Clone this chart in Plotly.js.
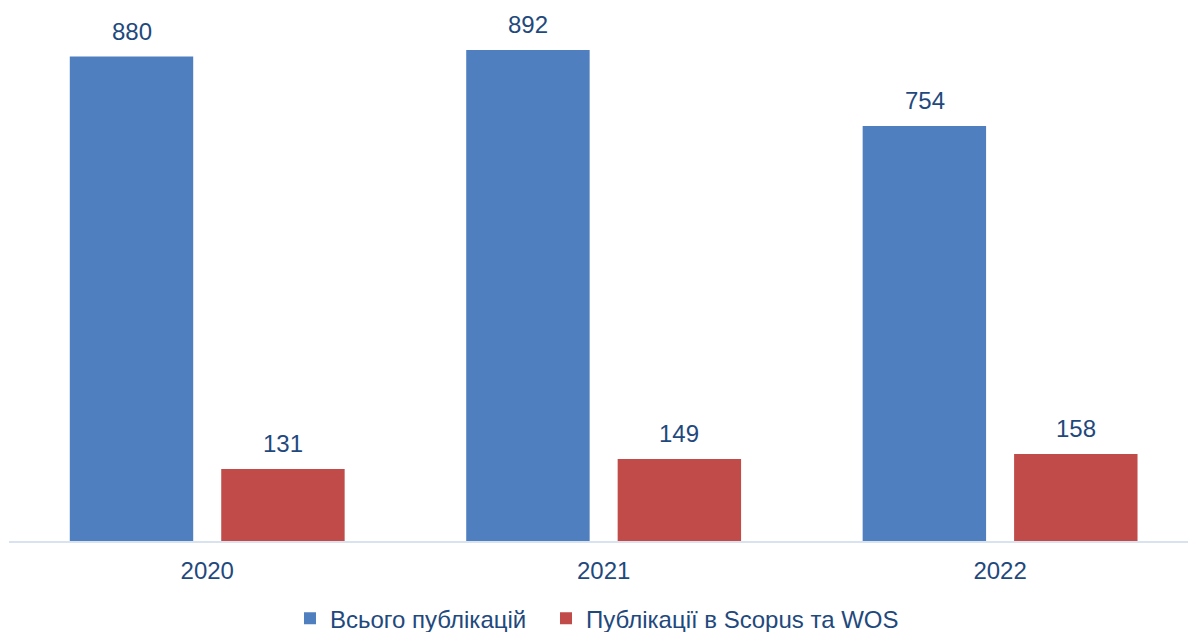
<!DOCTYPE html>
<html><head><meta charset="utf-8">
<script src="https://cdn.plot.ly/plotly-3.0.1.min.js"></script>
<style>html,body{margin:0;padding:0;background:#fff}#chart{width:1188px;height:632px}</style>
</head><body><div id="chart"></div>
<script>
const years = ['2020', '2021', '2022'];
const totalPubs = [880, 892, 754];
const scopusWos = [131, 149, 158];
const seriesNames = ['Всього публікацій', 'Публікації в Scopus та WOS'];

const textColor = '#1f497d';
function mkFont() { return {family: 'Liberation Sans, Arial, sans-serif', size: 24, color: textColor}; }

const traces = [
  {type: 'bar', name: seriesNames[0], x: years, y: totalPubs,
   marker: {color: '#4f7fbf'}, hoverinfo: 'y', legend: 'legend'},
  {type: 'bar', name: seriesNames[1], x: years, y: scopusWos,
   marker: {color: '#c04b49'}, hoverinfo: 'y', legend: 'legend2'}
];

const annotations = [];
[totalPubs, scopusWos].forEach((vals, s) => {
  vals.forEach((v, i) => {
    annotations.push({x: i, y: v, xref: 'x', yref: 'y', text: String(v),
      showarrow: false, yanchor: 'bottom', yshift: 10, xshift: s === 0 ? -75.5 : 75.5,
      font: mkFont()});
  });
});

function mkLegend(x) {
  return {orientation: 'h', x: x, xanchor: 'left', xref: 'container', yref: 'container',
    y: 0.021, yanchor: 'middle', font: mkFont(), bgcolor: 'rgba(0,0,0,0)'};
}

const layout = {
  width: 1188, height: 632,
  margin: {l: 9, r: 0, t: 0, b: 91},
  paper_bgcolor: '#fff', plot_bgcolor: '#fff',
  barmode: 'group', bargap: 0.236, bargroupgap: 0.185,
  font: mkFont(),
  xaxis: {type: 'category', range: [-0.5, 2.474], showline: true, linecolor: '#d9e2ef', linewidth: 2,
    ticks: '', showgrid: false, tickfont: mkFont(), zeroline: false, automargin: false,
    ticklabelstandoff: 7},
  yaxis: {range: [0, 982.7], visible: false, showgrid: false, zeroline: false, automargin: false},
  showlegend: true,
  legend: mkLegend(0.2441),
  legend2: mkLegend(0.4596),
  annotations: annotations
};

Plotly.newPlot('chart', traces, layout, {displayModeBar: false, staticPlot: true});
</script></body></html>
